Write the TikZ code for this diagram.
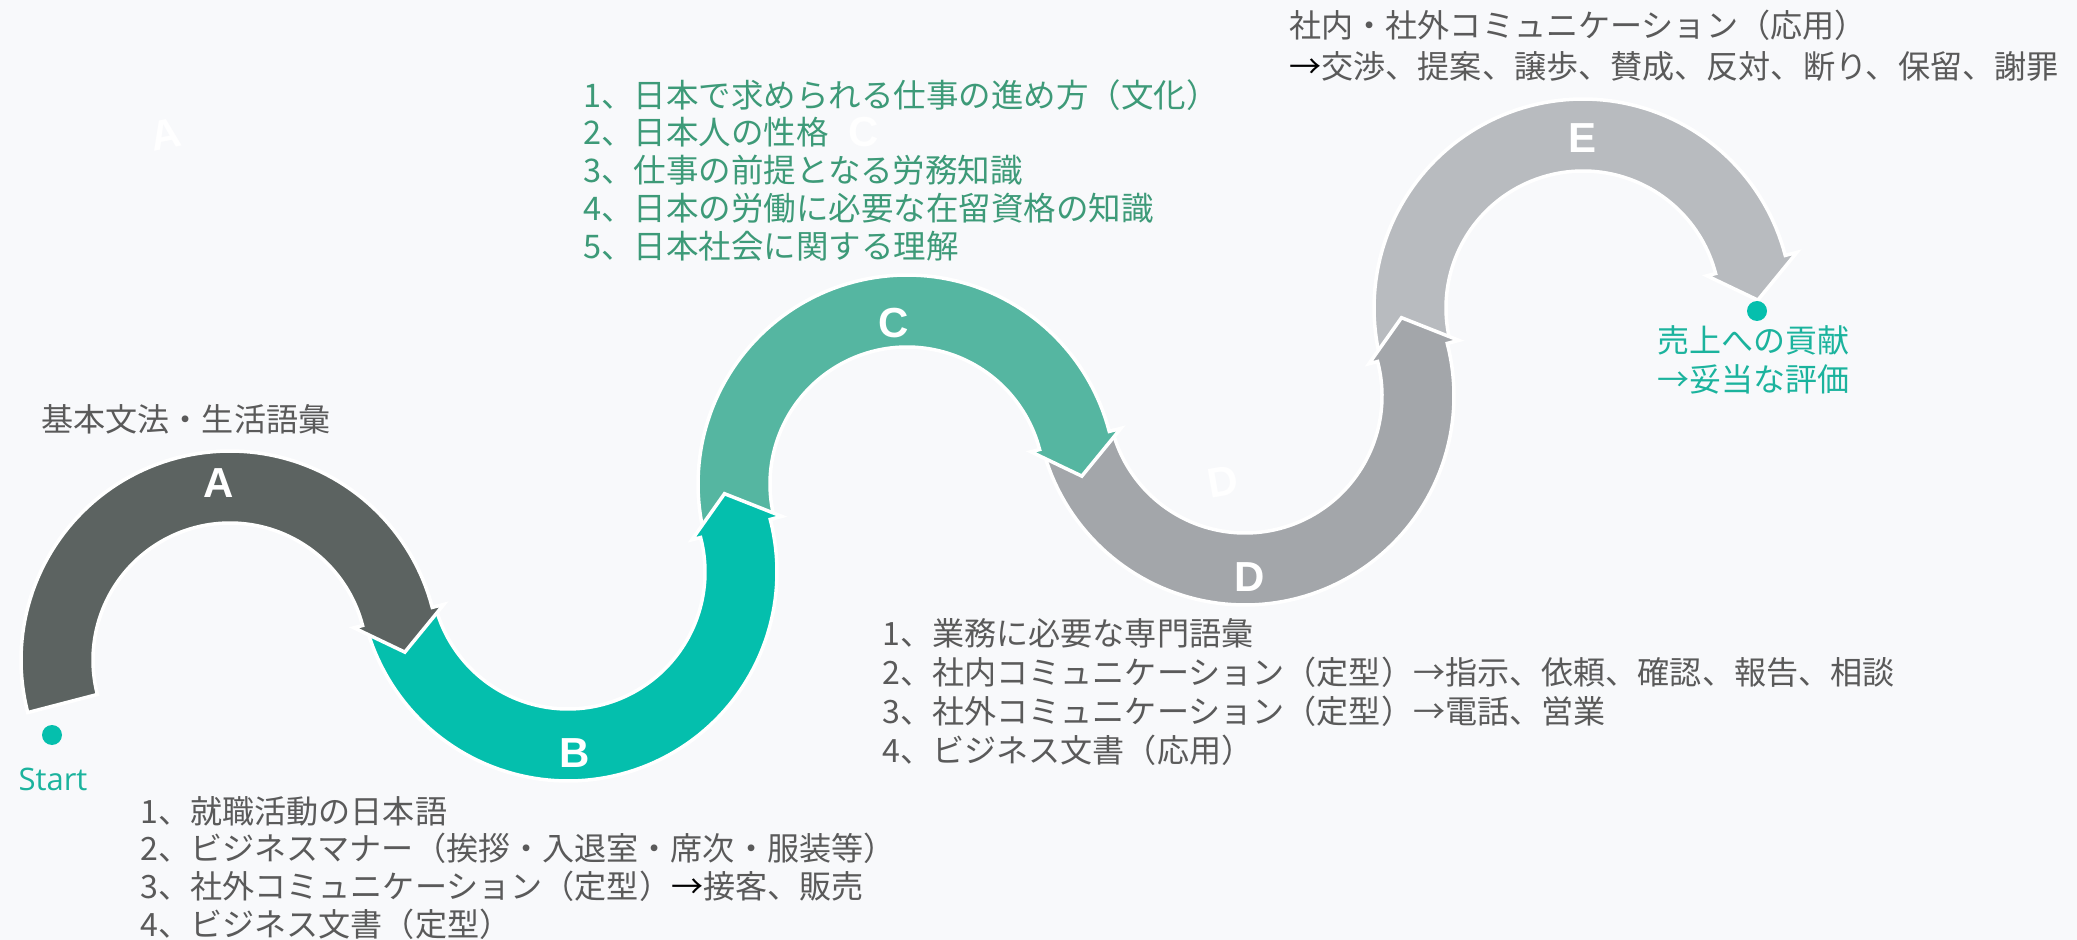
\documentclass[tikz,border=0pt]{standalone}
\usepackage{fontspec}
\setmainfont{Noto Sans CJK JP}
\newfontfamily\labfont{Liberation Sans}
\newfontfamily\startfont{Open Sans}
\definecolor{bgc}{HTML}{F8F9FB}
\definecolor{colA}{HTML}{5C6361}
\definecolor{colB}{HTML}{04BFAD}
\definecolor{colC}{HTML}{55B6A1}
\definecolor{colD}{HTML}{A3A6AA}
\definecolor{colE}{HTML}{B8BBBF}
\definecolor{txtgray}{HTML}{5A5A5A}
\definecolor{cgreen}{HTML}{3D9A78}
\definecolor{tealtxt}{HTML}{1BB39D}
\definecolor{dotteal}{HTML}{05BFAD}
\newcommand{\wavearc}[4]{%
  \pgfmathsetmacro{\wvS}{-194.58}%
  \pgfmathsetmacro{\wvE}{-194.58+#3*180}%
  \pgfmathsetmacro{\wvT}{\wvE+#3*12}%
  \filldraw[band, fill=#4]
    plot[domain=\wvS:\wvE, samples=91] ({#1+209*cos(\x)},{#2+209*sin(\x)})
    -- ({#1+221*cos(\wvE)},{#2+221*sin(\wvE)})
    -- ({#1+175*cos(\wvT)},{#2+175*sin(\wvT)})
    -- ({#1+128*cos(\wvE)},{#2+128*sin(\wvE)})
    -- plot[domain=\wvE:\wvS, samples=91] ({#1+137*cos(\x)},{#2+137*sin(\x)})
    -- cycle;
}
\begin{document}
\begin{tikzpicture}[x=0.5pt,y=-0.5pt,
  band/.style={draw=white, line width=1.75pt, line join=miter},
  jp/.style={inner sep=0pt, anchor=west, font=\fontsize{16.05}{18}\selectfont, text=txtgray},
  jpc/.style={jp, text=cgreen, font=\fontsize{16.25}{18}\selectfont},
  lbl/.style={inner sep=0pt, text=white, font=\labfont\bfseries\fontsize{21}{24}\selectfont},
  dot/.style={circle, fill=dotteal, inner sep=0pt, minimum size=10pt}]
\fill[bgc] (0,0) rectangle (2077,940);
\useasboundingbox (0,0) rectangle (2077,940);
% faint letters
\node[lbl, rotate=11] (fa) at (166,134) {A};
\node[lbl] (fc) at (864,132) {C};
\node[lbl, rotate=10] (fd) at (1223,482) {D};
% arcs, bottom-most first
\wavearc{1583}{308}{1}{colE}
\wavearc{1245}{396}{-1}{colD}
\wavearc{907}{484}{1}{colC}
\wavearc{568}{572}{-1}{colB}
\wavearc{230}{660}{1}{colA}
% labels on arcs
\node[lbl] (la) at (219,483) {A};
\node[lbl] (lb) at (575,753) {B};
\node[lbl] (lc) at (894,323) {C};
\node[lbl] (ld) at (1250,577) {D};
\node[lbl] (le) at (1582,138) {E};
% dots
\node[dot] (startdot) at (52,735) {};
\node[dot] (enddot) at (1757,311) {};
\node[inner sep=0pt, text=tealtxt, font=\startfont\fontsize{15.5}{18}\selectfont] (start) at (53,779) {Start};
\node[inner sep=0pt, text=tealtxt, align=center, font=\fontsize{16}{19.5}\selectfont] (endtxt) at (1753,360) {売上への貢献\\→妥当な評価};
% texts
\node[jp] (basic) at (41,419) {基本文法・生活語彙};
\node[jp] (b1) at (140,811) {1、就職活動の日本語};
\node[jp] (b2) at (140,848) {2、ビジネスマナー（挨拶・入退室・席次・服装等）};
\node[jp] (b3) at (140,886) {3、社外コミュニケーション（定型）\textcolor{black}{→}接客、販売};
\node[jp] (b4) at (140,924) {4、ビジネス文書（定型）};
\node[jpc] (c1) at (583,95) {1、日本で求められる仕事の進め方（文化）};
\node[jpc] (c2) at (583,132) {2、日本人の性格};
\node[jpc] (c3) at (583,170) {3、仕事の前提となる労務知識};
\node[jpc] (c4) at (583,208) {4、日本の労働に必要な在留資格の知識};
\node[jpc] (c5) at (583,246) {5、日本社会に関する理解};
\node[jp] (d1) at (882,633) {1、業務に必要な専門語彙};
\node[jp] (d2) at (882,672) {2、社内コミュニケーション（定型）→指示、依頼、確認、報告、相談};
\node[jp] (d3) at (882,711) {3、社外コミュニケーション（定型）→電話、営業};
\node[jp] (d4) at (882,750) {4、ビジネス文書（応用）};
\node[jp] (t1) at (1289,25) {社内・社外コミュニケーション（応用）};
\node[jp] (t2) at (1289,66) {\textcolor{black}{→}交渉、提案、譲歩、賛成、反対、断り、保留、謝罪};
\end{tikzpicture}
\end{document}
